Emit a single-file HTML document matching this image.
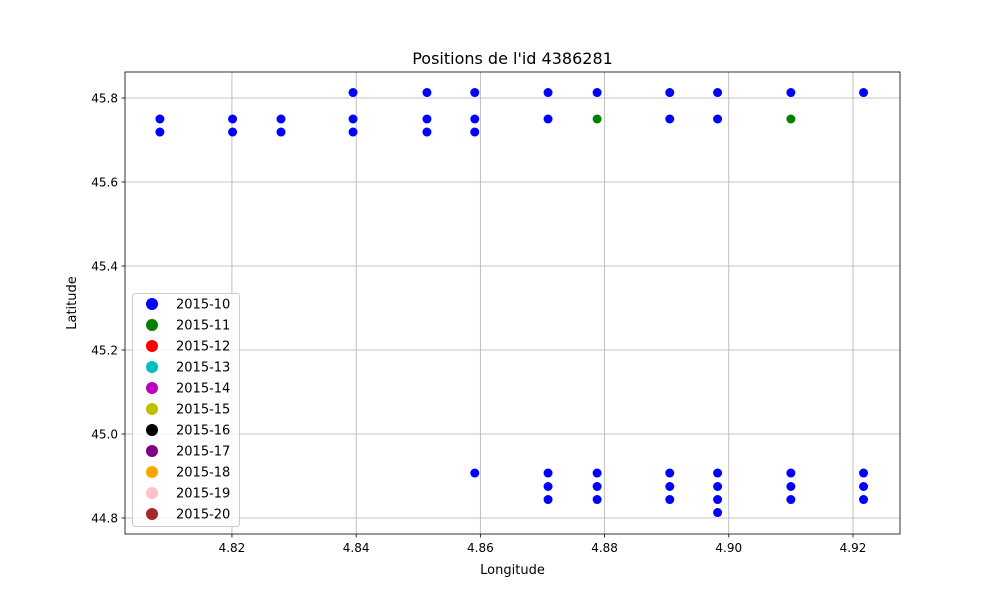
<!DOCTYPE html>
<html><head><meta charset="utf-8"><style>
body{margin:0;background:#fff;}
svg{display:block;font-family:"DejaVu Sans","Liberation Sans",sans-serif;}
</style></head><body>
<svg id="c" width="1000" height="600"></svg>
<script>
const xTicks=[4.82,4.84,4.86,4.88,4.90,4.92];
const yTicks=[44.8,45.0,45.2,45.4,45.6,45.8];
const legendLabels=["2015-10","2015-11","2015-12","2015-13","2015-14","2015-15","2015-16","2015-17","2015-18","2015-19","2015-20"];
const legendColors=["#0000ff","#008000","#ff0000","#00bfbf","#bf00bf","#bfbf00","#000000","#800080","#ffa500","#ffc0cb","#a52a2a"];
const blueLon=[4.8084,4.8084,4.8201,4.8201,4.8279,4.8279,4.8395,4.8395,4.8395,4.8514,4.8514,4.8514,4.8591,4.8591,4.8591,4.8591,4.8709,4.8709,4.8709,4.8709,4.8709,4.8788,4.8788,4.8788,4.8788,4.8905,4.8905,4.8905,4.8905,4.8905,4.8982,4.8982,4.8982,4.8982,4.8982,4.8982,4.9100,4.9100,4.9100,4.9100,4.9217,4.9217,4.9217,4.9217];
const blueLat=[45.75,45.719,45.75,45.719,45.75,45.719,45.813,45.75,45.719,45.813,45.75,45.719,45.813,45.75,45.719,44.907,45.813,45.75,44.907,44.875,44.844,45.813,44.907,44.875,44.844,45.813,45.75,44.907,44.875,44.844,45.813,45.75,44.907,44.875,44.844,44.813,45.813,44.907,44.875,44.844,45.813,44.907,44.875,44.844];
const greenLon=[4.8788,4.9100];
const greenLat=[45.75,45.75];
const X0=125,X1=900,Y0=72,Y1=534;
const xMin=4.80278,xMax=4.92757,yMin=44.7619,yMax=45.8619;
const sx=v=>X0+(v-xMin)/(xMax-xMin)*(X1-X0);
const sy=v=>Y1-(v-yMin)/(yMax-yMin)*(Y1-Y0);
const svg=document.getElementById('c');const NS="http://www.w3.org/2000/svg";
function mk(t,a,p){const e=document.createElementNS(NS,t);for(const k in a)e.setAttribute(k,a[k]);(p||svg).appendChild(e);return e;}
xTicks.forEach(v=>{const x=sx(v);
const l=mk('line',{x1:x,x2:x,y1:Y0,y2:Y1,stroke:'#b0b0b0','stroke-width':0.8});

mk('line',{x1:x,x2:x,y1:Y1,y2:Y1+3.5,stroke:'#000','stroke-width':0.8});
const t=mk('text',{x:x,y:Y1+18,'text-anchor':'middle','font-size':12});t.textContent=v.toFixed(2);
});
yTicks.forEach(v=>{const y=sy(v);
const l=mk('line',{x1:X0,x2:X1,y1:y,y2:y,stroke:'#b0b0b0','stroke-width':0.8});

mk('line',{x1:X0-3.5,x2:X0,y1:y,y2:y,stroke:'#000','stroke-width':0.8});
const t=mk('text',{x:X0-7,y:y+4.5,'text-anchor':'end','font-size':12});t.textContent=v.toFixed(1);
});
blueLon.forEach((v,i)=>{const c=mk('circle',{cx:sx(v),cy:sy(blueLat[i]),r:4.5,fill:'#0000ff'});
});
greenLon.forEach((v,i)=>{const c=mk('circle',{cx:sx(v),cy:sy(greenLat[i]),r:4.5,fill:'#008000'});
});
const fr=mk('rect',{x:X0,y:Y0,width:X1-X0,height:Y1-Y0,fill:'none',stroke:'#000','stroke-width':0.8});

const tt=mk('text',{x:(X0+X1)/2,y:64,'text-anchor':'middle','font-size':16});tt.textContent="Positions de l'id 4386281";

const xl=mk('text',{x:(X0+X1)/2,y:574,'text-anchor':'middle','font-size':13});xl.textContent="Longitude";

const yl=mk('text',{x:0,y:0,'text-anchor':'middle','font-size':13,transform:`translate(76,${(Y0+Y1)/2}) rotate(-90)`});yl.textContent="Latitude";

const lg=mk('g',{});
mk('rect',{x:132.5,y:293.5,width:107,height:233,rx:3,fill:'#fff','fill-opacity':0.8,stroke:'#ccc'},lg);
legendLabels.forEach((s,i)=>{const y=304+i*21;
const g=mk('g',{},lg);
mk('circle',{cx:152,cy:y,r:6,fill:legendColors[i]},g);
const t=mk('text',{x:176,y:y+4.5,'font-size':13},g);t.textContent=s;});
</script>
</body></html>
